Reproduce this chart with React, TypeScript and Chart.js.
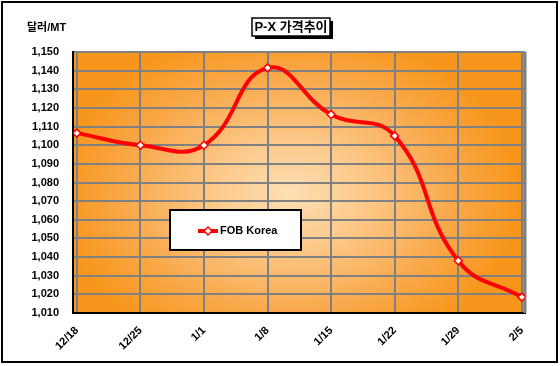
import React, { useEffect, useRef } from "react";
import { Chart, registerables } from "chart.js";

Chart.register(...registerables);

const categories = ["12/18", "12/25", "1/1", "1/8", "1/15", "1/22", "1/29", "2/5"];
const fobKorea = [1106.5, 1100, 1100, 1141.5, 1116.5, 1105, 1038, 1018.5];
const seriesName = "FOB Korea";
const titleText = "P-X 가격추이";
const yUnitLabel = "달러/MT";
const yMin = 1010;
const yMax = 1150;
const yStep = 10;

const FONT = '"Liberation Sans", Arial, "Noto Sans CJK KR", sans-serif';

const decorPlugin = {
  id: "decor",
  beforeDraw(chart: any) {
    const { ctx, chartArea: a, width, height } = chart;
    ctx.save();
    ctx.fillStyle = "#fff";
    ctx.fillRect(0, 0, width, height);
    ctx.strokeStyle = "#000";
    ctx.lineWidth = 2;
    ctx.strokeRect(2, 2, width - 5, height - 6);

    // plot background gradient (elliptical from center)
    const cx = (a.left + a.right) / 2 - 10;
    const cy = (a.top + a.bottom) / 2 + 12;
    const rw = (a.right - a.left) / 2;
    const rh = (a.bottom - a.top) / 2;
    ctx.save();
    ctx.beginPath();
    ctx.rect(a.left, a.top, a.right - a.left, a.bottom - a.top);
    ctx.clip();
    ctx.translate(cx, cy);
    ctx.scale(1, (rh / rw) * 1.25);
    const g = ctx.createRadialGradient(0, 0, 0, 0, 0, rw * 1.02);
    g.addColorStop(0, "#FDDFB4");
    g.addColorStop(0.3, "#FCCB8E");
    g.addColorStop(0.7, "#F9A94C");
    g.addColorStop(1, "#F7961C");
    ctx.fillStyle = g;
    ctx.fillRect(-rw * 3, -rw * 3, rw * 6, rw * 6);
    ctx.restore();

    // title box
    ctx.fillStyle = "#000";
    ctx.fillRect(255, 21, 78, 18);
    ctx.fillStyle = "#fff";
    ctx.fillRect(252, 18, 78, 18);
    ctx.lineWidth = 1.5;
    ctx.strokeStyle = "#000";
    ctx.strokeRect(252, 18, 78, 18);
    ctx.fillStyle = "#000";
    ctx.font = `bold 13px ${FONT}`;
    ctx.textAlign = "center";
    ctx.textBaseline = "middle";
    ctx.fillText(titleText, 291, 27.5);

    // y unit label
    ctx.font = `bold 11px ${FONT}`;
    ctx.textAlign = "left";
    ctx.fillText(yUnitLabel, 27, 28);
    ctx.restore();
  },
  beforeDatasetsDraw(chart: any) {
    const { ctx, chartArea: a } = chart;
    ctx.save();
    ctx.strokeStyle = "#808080";
    ctx.lineWidth = 3;
    ctx.beginPath();
    ctx.moveTo(a.right, a.top);
    ctx.lineTo(a.right, a.bottom);
    ctx.stroke();
    ctx.restore();
  },
  afterDraw(chart: any) {
    const { ctx } = chart;
    ctx.save();
    // legend box
    ctx.fillStyle = "#fff";
    ctx.fillRect(170, 210, 131, 40);
    ctx.strokeStyle = "#000";
    ctx.lineWidth = 2;
    ctx.strokeRect(170, 210, 131, 40);
    ctx.strokeStyle = "#FF0000";
    ctx.lineWidth = 4;
    ctx.beginPath();
    ctx.moveTo(198, 231);
    ctx.lineTo(218, 231);
    ctx.stroke();
    ctx.fillStyle = "#fff";
    ctx.lineWidth = 1.5;
    ctx.beginPath();
    ctx.moveTo(208, 227);
    ctx.lineTo(212, 231);
    ctx.lineTo(208, 235);
    ctx.lineTo(204, 231);
    ctx.closePath();
    ctx.fill();
    ctx.stroke();
    ctx.fillStyle = "#000";
    ctx.font = `bold 11px ${FONT}`;
    ctx.textAlign = "left";
    ctx.textBaseline = "middle";
    ctx.fillText(seriesName, 220, 231);
    ctx.restore();
  },
};

export default function App() {
  const ref = useRef<HTMLCanvasElement | null>(null);
  useEffect(() => {
    if (!ref.current) return;
    const chart = new Chart(ref.current, {
      type: "line",
      data: {
        datasets: [
          {
            label: seriesName,
            data: fobKorea.map((v, i) => ({ x: i, y: v })),
            borderColor: "#FF0000",
            borderWidth: 4,
            tension: 0.45,
            pointStyle: "rectRot",
            pointRadius: 4,
            pointBorderWidth: 1.5,
            pointBackgroundColor: "#fff",
            pointBorderColor: "#FF0000",
            fill: false,
          },
        ],
      },
      options: {
        animation: false,
        responsive: false,
        devicePixelRatio: 1,
        layout: { padding: { top: 52, right: 35, left: 0, bottom: 0 } },
        plugins: {
          legend: { display: false },
          title: { display: false },
          tooltip: { enabled: false },
        },
        scales: {
          x: {
            type: "linear",
            min: -0.06,
            max: 7.05,
            afterBuildTicks: (s: any) => {
              s.ticks = categories.map((_, i) => ({ value: i }));
            },
            afterFit: (s: any) => {
              s.height = 53;
            },
            ticks: {
              autoSkip: false,
              minRotation: 45,
              maxRotation: 45,
              color: "#000",
              padding: 11,
              font: { family: FONT, size: 11, weight: "bold" },
              callback: (v: any) => categories[v as number] ?? "",
            },
            grid: { color: "#808080", lineWidth: 2, drawTicks: false },
            border: { color: "#000", width: 2 },
          },
          y: {
            min: yMin,
            max: yMax,
            afterFit: (s: any) => {
              s.width = 73;
            },
            ticks: {
              stepSize: yStep,
              color: "#000",
              padding: 14,
              font: { family: FONT, size: 11, weight: "bold" },
              callback: (v: any) => Number(v).toLocaleString("en-US"),
            },
            grid: { color: "#808080", lineWidth: 2, drawTicks: false },
            border: { color: "#000", width: 2 },
          },
        },
      } as any,
      plugins: [decorPlugin],
    });
    return () => chart.destroy();
  }, []);
  return (
    <div style={{ position: "fixed", left: 0, top: 0, width: 560, height: 366 }}>
      <canvas ref={ref} width={560} height={366} />
    </div>
  );
}
